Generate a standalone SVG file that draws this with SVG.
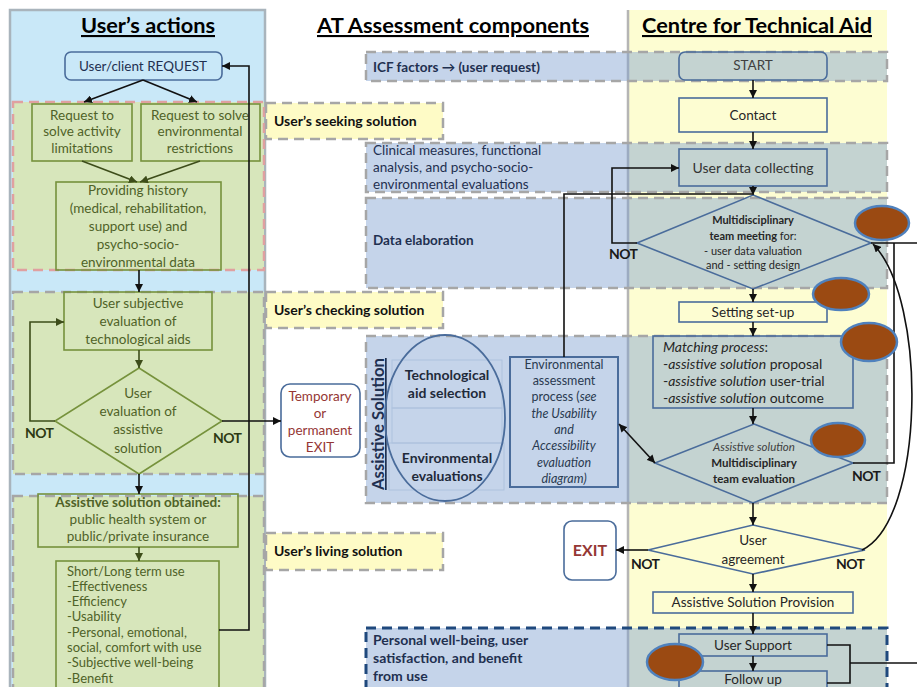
<svg xmlns="http://www.w3.org/2000/svg" width="917" height="687" viewBox="0 0 917 687">
<defs>
<style>
text{font-family:Lato,"Liberation Sans",sans-serif;}
.title{font-size:21px;font-weight:bold;text-decoration:underline;fill:#000;text-anchor:middle;}
.gbox{fill:none;stroke:#76923c;stroke-width:1.6;}
.gt{font-size:13.5px;fill:#4f6228;text-anchor:middle;}
.bbox{fill:none;stroke:#4a6c9b;stroke-width:1.6;}
.bt{font-size:13.5px;fill:#262626;text-anchor:middle;}
.band{fill:#7f9fd0;fill-opacity:0.45;stroke:#a6a6a6;stroke-width:2.5;stroke-dasharray:10,6;}
.lab{fill:#fefbc6;stroke:#a6a6a6;stroke-width:2.5;stroke-dasharray:10,6;}
.labt{font-size:14px;font-weight:bold;fill:#111;}
.mt{font-size:13.5px;fill:#1f3050;}
.not{font-size:14px;font-weight:bold;fill:#1a1a1a;letter-spacing:-0.6px;}
.ln{fill:none;stroke:#111;stroke-width:1.6;}
.gl{fill:none;stroke:#3d4d1a;stroke-width:1.6;}
.brown{fill:#9b4a12;stroke:#4f81bd;stroke-width:2.5;}
.red{fill:#953735;text-anchor:middle;}
.lt{font-size:13px;fill:#4f6228;text-anchor:start;}
</style>
<marker id="ah" viewBox="0 0 10 10" refX="10" refY="5" markerWidth="8" markerHeight="8" markerUnits="userSpaceOnUse" orient="auto-start-reverse"><path d="M0,0 L10,5 L0,10 z" fill="#111"/></marker>
<marker id="ag" viewBox="0 0 10 10" refX="10" refY="5" markerWidth="8" markerHeight="8" markerUnits="userSpaceOnUse" orient="auto"><path d="M0,0 L10,5 L0,10 z" fill="#3d4d1a"/></marker>
</defs>

<g id="backgrounds">
<rect x="10" y="10" width="255" height="690" fill="#c9e8f8" stroke="#a9b4bc" stroke-width="2.5"/>
<rect x="628" y="10" width="259" height="690" fill="#fdfdd2"/>
<line x1="628" y1="10" x2="628" y2="687" stroke="#b5b5b5" stroke-width="2.5"/>
<rect x="13" y="102" width="251" height="168" fill="#d7e6bb" stroke="#e0a0a0" stroke-width="2.5" stroke-dasharray="10,6"/>
<rect x="13" y="292" width="251" height="182" fill="#d7e6bb" stroke="#a6a6a6" stroke-width="2.5" stroke-dasharray="10,6"/>
<rect x="13" y="496" width="251" height="200" fill="#d7e6bb" stroke="#a6a6a6" stroke-width="2.5" stroke-dasharray="10,6"/>
<rect class="band" x="366" y="52" width="521" height="29"/>
<rect class="band" x="366" y="143" width="521" height="49"/>
<rect class="band" x="366" y="198" width="521" height="90"/>
<rect class="band" x="366" y="336" width="521" height="167"/>
<rect class="band" x="366" y="628" width="521" height="70" style="stroke:#1f497d;stroke-width:3"/>
</g>

<g id="titles">
<text class="title" x="148" y="33" textLength="134" lengthAdjust="spacingAndGlyphs">User’s actions</text>
<text class="title" x="453" y="33" textLength="272" lengthAdjust="spacingAndGlyphs">AT Assessment components</text>
<text class="title" x="757" y="33" textLength="230" lengthAdjust="spacingAndGlyphs">Centre for Technical Aid</text>
</g>

<g id="band-labels">
<text class="mt" x="373" y="72" style="font-weight:bold">ICF factors → (user request)</text>
<text class="mt" x="373" y="155">Clinical measures, functional</text>
<text class="mt" x="373" y="172">analysis, and psycho-socio-</text>
<text class="mt" x="373" y="189">environmental evaluations</text>
<text class="mt" x="373" y="245" style="font-weight:bold">Data elaboration</text>
<text class="mt" x="373" y="645" style="font-weight:bold;font-size:14px">Personal well-being, user</text>
<text class="mt" x="373" y="663" style="font-weight:bold;font-size:14px">satisfaction, and benefit</text>
<text class="mt" x="373" y="681" style="font-weight:bold;font-size:14px">from use</text>
</g>

<g id="phase-seeking"><rect class="lab" x="266" y="103" width="177" height="36"/><text class="labt" x="274" y="126">User’s seeking solution</text></g>
<g id="phase-checking"><rect class="lab" x="266" y="292" width="177" height="36"/><text class="labt" x="274" y="315">User’s checking solution</text></g>
<g id="phase-living"><rect class="lab" x="266" y="533" width="177" height="37"/><text class="labt" x="274" y="556">User’s living solution</text></g>

<g id="node-request"><rect x="65" y="52" width="157" height="28" rx="6" fill="#c9e8f8" stroke="#4a6c9b" stroke-width="1.6"/><text class="bt" x="143" y="71" style="font-size:13.5px;fill:#1f3050">User/client REQUEST</text></g>
<g id="node-activity"><rect class="gbox" x="32" y="104" width="100" height="57"/>
<text class="gt" x="82" y="120">Request to</text><text class="gt" x="82" y="136">solve activity</text><text class="gt" x="82" y="153">limitations</text></g>
<g id="node-environmental"><rect class="gbox" x="141" y="104" width="119" height="57"/>
<text class="gt" x="200" y="120">Request to solve</text><text class="gt" x="200" y="136">environmental</text><text class="gt" x="200" y="153">restrictions</text></g>
<g id="node-history"><rect class="gbox" x="56" y="182" width="165" height="88"/>
<text class="gt" x="138" y="195">Providing history</text><text class="gt" x="138" y="213">(medical, rehabilitation,</text><text class="gt" x="138" y="231">support use) and</text><text class="gt" x="138" y="249">psycho-socio-</text><text class="gt" x="138" y="267">environmental data</text></g>
<g id="node-subjective"><rect class="gbox" x="64" y="292" width="148" height="58"/>
<text class="gt" x="138" y="308">User subjective</text><text class="gt" x="138" y="326">evaluation of</text><text class="gt" x="138" y="344">technological aids</text></g>
<g id="node-user-eval"><polygon class="gbox" points="139,368 222,421 139,474 55,421"/>
<text class="gt" x="138" y="398">User</text><text class="gt" x="138" y="416">evaluation of</text><text class="gt" x="138" y="434">assistive</text><text class="gt" x="138" y="453">solution</text></g>
<g id="node-temp-exit"><rect x="281" y="384" width="79" height="73" rx="9" fill="#fff" stroke="#4a6c9b" stroke-width="1.6"/>
<text class="red" x="320" y="401" style="font-size:13.5px">Temporary</text><text class="red" x="320" y="418" style="font-size:13.5px">or</text><text class="red" x="320" y="435" style="font-size:13.5px">permanent</text><text class="red" x="320" y="452" style="font-size:13.5px">EXIT</text></g>
<g id="node-obtained"><rect class="gbox" x="38" y="494" width="200" height="53"/>
<text class="gt" x="138" y="507" style="font-weight:bold">Assistive solution obtained:</text><text class="gt" x="138" y="524">public health system or</text><text class="gt" x="138" y="541">public/private insurance</text></g>
<g id="node-longterm"><rect class="gbox" x="56" y="561" width="163" height="140"/>
<text class="lt" x="67" y="576">Short/Long term use</text>
<text class="lt" x="67" y="591">-Effectiveness</text>
<text class="lt" x="67" y="606">-Efficiency</text>
<text class="lt" x="67" y="621">-Usability</text>
<text class="lt" x="67" y="637">-Personal, emotional,</text>
<text class="lt" x="67" y="652">social, comfort with use</text>
<text class="lt" x="67" y="667">-Subjective well-being</text>
<text class="lt" x="67" y="683">-Benefit</text>
</g>

<g id="node-assistive-solution">
<text x="384" y="424" transform="rotate(-90 384 424)" textLength="132" lengthAdjust="spacingAndGlyphs" style="font-size:17px;font-weight:bold;fill:#1f3050;text-anchor:middle;text-decoration:underline">Assistive Solution</text>
<rect x="392" y="360" width="110" height="48" fill="none" stroke="#aec2dd" stroke-width="1"/>
<rect x="392" y="408" width="110" height="35" fill="none" stroke="#aec2dd" stroke-width="1"/>
<rect x="389" y="443" width="115" height="47" fill="none" stroke="#aec2dd" stroke-width="1"/>
<ellipse cx="445" cy="418" rx="60" ry="83" fill="none" stroke="#4a6c9b" stroke-width="1.8"/>
<text x="447" y="380" style="font-size:14px;font-weight:bold;fill:#1f2a3a;text-anchor:middle">Technological</text>
<text x="447" y="398" style="font-size:14px;font-weight:bold;fill:#1f2a3a;text-anchor:middle">aid selection</text>
<text x="447" y="463" style="font-size:14px;font-weight:bold;fill:#1f2a3a;text-anchor:middle">Environmental</text>
<text x="447" y="481" style="font-size:14px;font-weight:bold;fill:#1f2a3a;text-anchor:middle">evaluations</text>
</g>
<g id="node-env-process"><rect x="510" y="357" width="108" height="130" fill="none" stroke="#4a6c9b" stroke-width="2"/>
<g style="font-size:12.5px;fill:#2a3a50">
<text x="564" y="369" style="text-anchor:middle">Environmental</text>
<text x="564" y="385" style="text-anchor:middle">assessment</text>
<text x="564" y="401" style="text-anchor:middle">process (<tspan font-style="italic">see</tspan></text>
<text x="564" y="418" style="text-anchor:middle;font-style:italic">the Usability</text>
<text x="564" y="434" style="text-anchor:middle;font-style:italic">and</text>
<text x="564" y="450" style="text-anchor:middle;font-style:italic">Accessibility</text>
<text x="564" y="467" style="text-anchor:middle;font-style:italic">evaluation</text>
<text x="564" y="483" style="text-anchor:middle;font-style:italic">diagram)</text>
</g></g>

<g id="node-start"><rect class="bbox" x="679" y="52" width="148" height="28" rx="6"/><text class="bt" x="753" y="70" style="fill:#404040">START</text></g>
<g id="node-contact"><rect class="bbox" x="679" y="98" width="148" height="34"/><text class="bt" x="753" y="120">Contact</text></g>
<g id="node-data-collect"><rect class="bbox" x="679" y="149" width="148" height="37"/><text class="bt" x="753" y="173" style="font-size:14px;fill:#333">User data collecting</text></g>
<g id="node-team-meeting"><polygon class="bbox" points="753,195 871,243 753,289 637,243"/>
<text class="bt" x="753" y="224" style="font-size:11px;font-weight:bold">Multidisciplinary</text>
<text class="bt" x="753" y="240" style="font-size:11px"><tspan font-weight="bold">team meeting</tspan> for:</text>
<text class="bt" x="753" y="255" style="font-size:11px">- user data valuation</text>
<text class="bt" x="753" y="269" style="font-size:11px">and - setting design</text></g>
<g id="node-setting"><rect class="bbox" x="679" y="302" width="148" height="20"/><text class="bt" x="753" y="317">Setting set-up</text></g>
<g id="node-matching"><rect class="bbox" x="653" y="336" width="200" height="72"/>
<text x="663" y="352" style="font-size:14px;fill:#262626"><tspan font-style="italic">Matching process</tspan>:</text>
<text x="663" y="369" style="font-size:14px;fill:#262626">-<tspan font-style="italic">assistive solution</tspan> proposal</text>
<text x="663" y="386" style="font-size:14px;fill:#262626">-<tspan font-style="italic">assistive solution</tspan> user-trial</text>
<text x="663" y="403" style="font-size:14px;fill:#262626">-<tspan font-style="italic">assistive solution</tspan> outcome</text></g>
<g id="node-team-eval"><polygon class="bbox" points="754,424 853,463 753,503 655,463"/>
<text class="bt" x="754" y="451" style="font-size:11.5px;font-style:italic;fill:#404040">Assistive solution</text>
<text class="bt" x="754" y="467" style="font-size:11.5px;font-weight:bold">Multidisciplinary</text>
<text class="bt" x="754" y="483" style="font-size:11.5px;font-weight:bold">team evaluation</text></g>
<g id="node-agreement"><polygon class="bbox" points="753,525 865,550 753,574 648,550"/>
<text class="bt" x="753" y="545">User</text><text class="bt" x="753" y="564">agreement</text></g>
<g id="node-exit"><rect x="564" y="521" width="52" height="59" rx="8" fill="#fff" stroke="#4a6c9b" stroke-width="1.6"/><text class="red" x="590" y="556" style="font-size:16px;font-weight:bold">EXIT</text></g>
<g id="node-provision"><rect class="bbox" x="653" y="592" width="200" height="21"/><text class="bt" x="753" y="607">Assistive Solution  Provision</text></g>
<g id="node-support"><rect class="bbox" x="679" y="634" width="148" height="22"/><text class="bt" x="753" y="650">User Support</text></g>
<g id="node-followup"><rect class="bbox" x="679" y="671" width="148" height="24"/><text class="bt" x="753" y="684">Follow up</text></g>

<g id="connectors">
<line class="ln" x1="143" y1="80" x2="84" y2="102" marker-end="url(#ah)"/>
<line class="ln" x1="143" y1="80" x2="197" y2="102" marker-end="url(#ah)"/>
<line class="gl" x1="82" y1="161" x2="137" y2="182" marker-end="url(#ag)"/>
<line class="gl" x1="200" y1="161" x2="140" y2="182" marker-end="url(#ag)"/>
<line class="ln" x1="139" y1="270" x2="139" y2="292" marker-end="url(#ah)"/>
<line class="gl" x1="139" y1="350" x2="139" y2="368" marker-end="url(#ag)"/>
<polyline class="gl" points="55,421 30,421 30,322 64,322" marker-end="url(#ag)"/>
<line class="ln" x1="222" y1="421" x2="281" y2="421" marker-end="url(#ah)"/>
<line class="ln" x1="139" y1="474" x2="139" y2="494" marker-end="url(#ah)"/>
<line class="gl" x1="139" y1="547" x2="139" y2="561" marker-end="url(#ag)"/>
<polyline class="ln" points="219,630 249,630 249,66 222,66" marker-end="url(#ah)"/>

<line class="ln" x1="753" y1="80" x2="753" y2="98" marker-end="url(#ah)"/>
<line class="ln" x1="753" y1="132" x2="753" y2="149" marker-end="url(#ah)"/>
<line class="ln" x1="753" y1="186" x2="753" y2="195" marker-end="url(#ah)"/>
<polyline class="ln" points="564,357 564,194 752,194"/>
<polyline class="ln" points="637,243 612,243 612,168 679,168" marker-end="url(#ah)"/>
<line class="ln" x1="753" y1="289" x2="753" y2="302" marker-end="url(#ah)"/>
<line class="ln" x1="753" y1="322" x2="753" y2="336" marker-end="url(#ah)"/>
<line class="ln" x1="753" y1="408" x2="753" y2="424" marker-end="url(#ah)"/>
<line class="ln" x1="619" y1="424" x2="655" y2="463" marker-start="url(#ah)" marker-end="url(#ah)"/>
<polyline class="ln" points="853,463 894,463 894,243"/>
<line class="ln" x1="871" y1="243" x2="917" y2="243"/>
<path class="ln" d="M862,550 C925,520 928,300 873,244" marker-end="url(#ah)"/>
<line class="ln" x1="753" y1="503" x2="753" y2="525" marker-end="url(#ah)"/>
<line class="ln" x1="648" y1="550" x2="616" y2="550" marker-end="url(#ah)"/>
<line class="ln" x1="753" y1="574" x2="753" y2="592" marker-end="url(#ah)"/>
<line class="ln" x1="753" y1="613" x2="753" y2="634" marker-end="url(#ah)"/>
<line class="ln" x1="753" y1="656" x2="753" y2="671" marker-end="url(#ah)"/>
<polyline class="ln" points="827,645 850,645 850,683 827,683"/>
<line class="ln" x1="850" y1="663" x2="917" y2="663"/>
</g>

<g id="not-labels">
<text class="not" x="25" y="438" style="fill:#2e3a14">NOT</text>
<text class="not" x="213" y="443" style="fill:#2e3a14">NOT</text>
<text class="not" x="609" y="259">NOT</text>
<text class="not" x="852" y="481">NOT</text>
<text class="not" x="631" y="569">NOT</text>
<text class="not" x="836" y="569">NOT</text>
</g>

<g id="markers-brown">
<ellipse class="brown" cx="882" cy="223" rx="27" ry="17"/>
<ellipse class="brown" cx="841" cy="294" rx="28" ry="16"/>
<ellipse class="brown" cx="869" cy="342" rx="28" ry="19"/>
<ellipse class="brown" cx="838" cy="440" rx="27" ry="17"/>
<ellipse class="brown" cx="675" cy="662" rx="28" ry="18"/>
</g>
</svg>
